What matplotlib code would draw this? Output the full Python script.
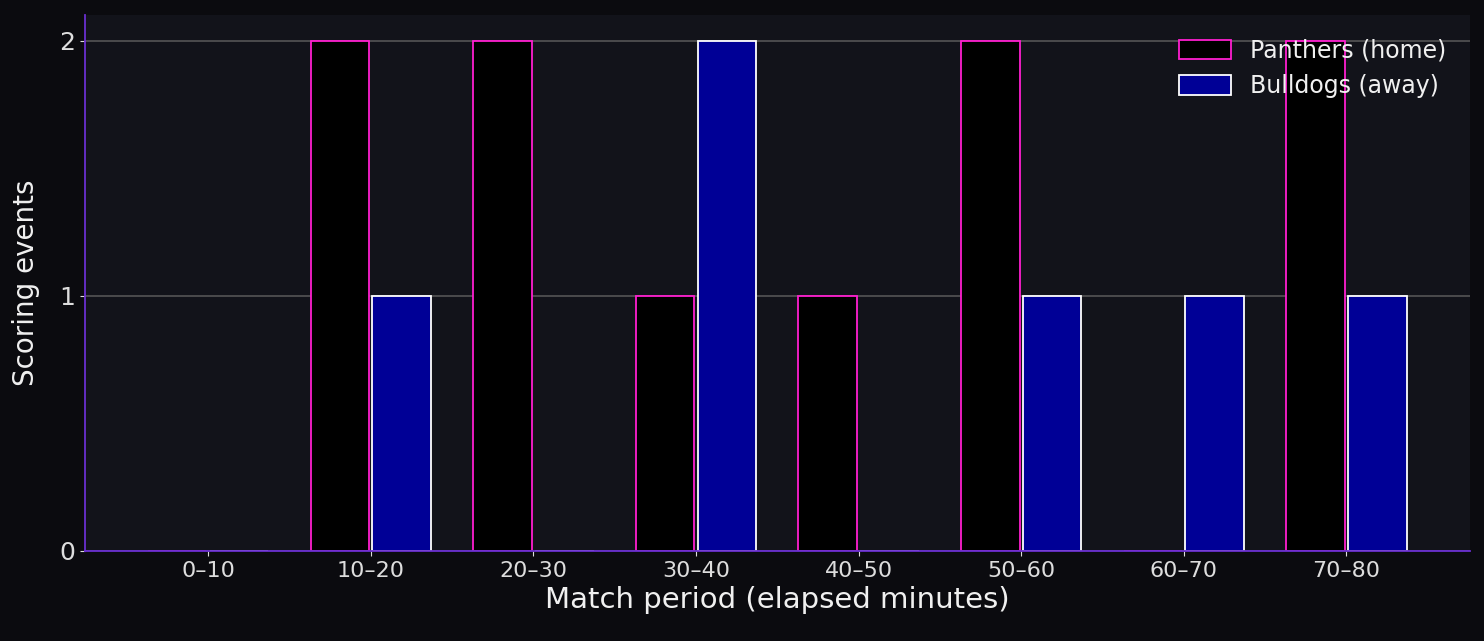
import matplotlib
matplotlib.use("Agg")
import matplotlib.pyplot as plt
import numpy as np

categories = ["0–10", "10–20", "20–30", "30–40", "40–50", "50–60", "60–70", "70–80"]
panthers = [0, 2, 2, 1, 1, 2, 0, 2]
bulldogs = [0, 1, 0, 2, 0, 1, 1, 1]

fig = plt.figure(figsize=(14.84, 6.41), dpi=100, facecolor="#0b0b0f")
ax = fig.add_axes([85/1484, 1-551/641, (1470-85)/1484, (551-15)/641])
ax.set_facecolor("#12131a")
x = np.arange(len(categories))
w = 0.36
ax.bar(x - w/2 - 0.01, panthers, w, color="#000000", edgecolor="#ff1fd0", linewidth=1.3, label="Panthers (home)", zorder=3)
ax.bar(x + w/2 + 0.01, bulldogs, w, color="#000096", edgecolor="#ffffff", linewidth=1.3, label="Bulldogs (away)", zorder=3)
ax.set_xlim(-0.757, 7.76)
ax.set_ylim(0, 2.1)
ax.set_yticks([0, 1, 2])
ax.set_xticks(x)
ax.set_xticklabels(categories)
ax.grid(axis="y", color="#555555", linewidth=1.2, zorder=0)
for s in ["top", "right"]:
    ax.spines[s].set_visible(False)
for s in ["left", "bottom"]:
    ax.spines[s].set_color("#6a2fd0")
    ax.spines[s].set_linewidth(1.3)
    ax.spines[s].set_zorder(5)
ax.tick_params(axis="x", colors="#dddddd", labelsize=16)
ax.tick_params(axis="y", colors="#dddddd", labelsize=18)
ax.set_xlabel("Match period (elapsed minutes)", color="#f0f0f0", fontsize=21, labelpad=4)
ax.set_ylabel("Scoring events", color="#f0f0f0", fontsize=20, labelpad=14)
leg = ax.legend(loc="upper right", frameon=False, fontsize=17, labelcolor="#f0f0f0",
                borderaxespad=0.6, handlelength=2.2, handleheight=0.9)
fig.savefig("out.png", dpi=100, facecolor=fig.get_facecolor())
